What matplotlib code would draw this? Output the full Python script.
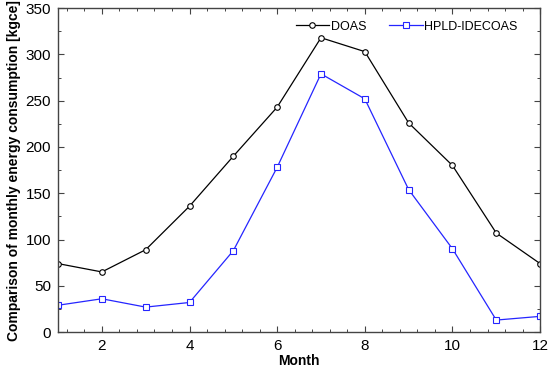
import matplotlib
matplotlib.use("Agg")
import matplotlib.pyplot as plt
from matplotlib.ticker import MultipleLocator

plt.rcParams['font.family'] = ['Liberation Sans', 'DejaVu Sans']

months = [1, 2, 3, 4, 5, 6, 7, 8, 9, 10, 11, 12]
doas = [74, 65, 89, 136, 190, 243, 318, 303, 226, 180, 107, 74]
hpld = [29, 36, 27, 32, 88, 178, 279, 252, 154, 90, 13, 17]

fig = plt.figure(figsize=(5.5, 3.69), dpi=100)
ax = fig.add_axes([0.1055, 0.100, 0.8765, 0.878])

ax.plot(months, doas, color='black', lw=0.9, marker='o', markersize=4,
        markerfacecolor='white', markeredgecolor='black', markeredgewidth=0.8, label='DOAS')
ax.plot(months, hpld, color='#2525ff', lw=0.9, marker='s', markersize=5,
        markerfacecolor='white', markeredgecolor='#2525ff', markeredgewidth=0.8, label='HPLD-IDECOAS')

ax.set_xlim(1, 12)
ax.set_ylim(0, 350)
ax.xaxis.set_major_locator(MultipleLocator(2))
ax.xaxis.set_minor_locator(MultipleLocator(0.4))
ax.yaxis.set_major_locator(MultipleLocator(50))
ax.yaxis.set_minor_locator(MultipleLocator(25))
ax.tick_params(which='both', direction='in', top=True, right=True, labelsize=11, color='#444444')
ax.tick_params(which='major', length=4, width=0.8, pad=5)
ax.tick_params(which='minor', length=2.5, width=0.7)
for s in ax.spines.values():
    s.set_color('#444444')
    s.set_linewidth(1.0)

ax.set_xlabel('Month', fontsize=10, fontweight='bold', labelpad=1)
ax.set_ylabel('Comparison of monthly energy consumption [kgce]', fontsize=10, fontweight='bold', labelpad=3)

ax.legend(loc='upper right', ncol=2, frameon=False, fontsize=9.0, handlelength=2.65,
          handletextpad=0.15, columnspacing=1.85, bbox_to_anchor=(0.972, 0.988), borderaxespad=0.3)

fig.savefig('out.png', dpi=100)
